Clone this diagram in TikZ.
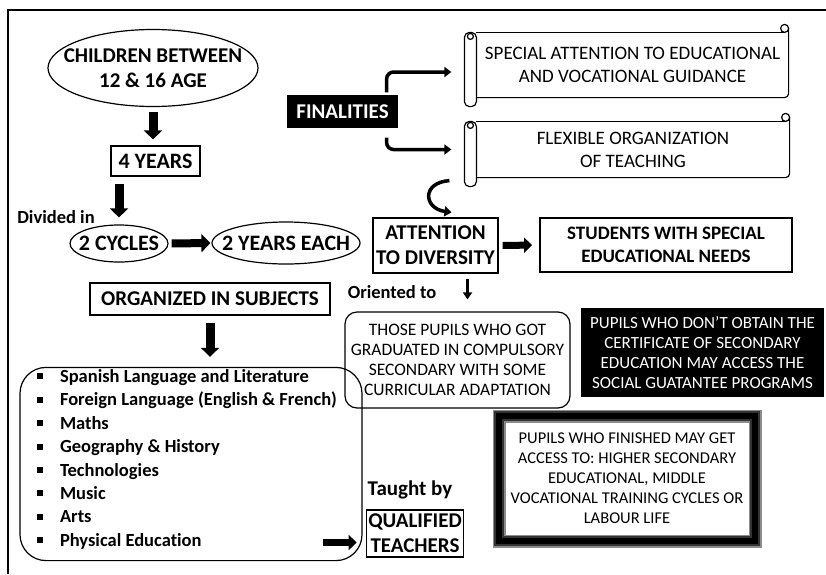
\documentclass[tikz,border=0pt]{standalone}
\usepackage{fontspec}
\setmainfont{Carlito}[Ligatures=NoCommon]
\usetikzlibrary{arrows.meta}
\usetikzlibrary{shapes.geometric}
\usetikzlibrary{calc}
\newcommand{\sqbul}{\rule[3pt]{6pt}{6pt}\hspace{17pt}}
\newcommand{\bigtxt}{\fontsize{21}{25}\selectfont\bfseries}
\newcommand{\midtxt}{\fontsize{19}{23}\selectfont\bfseries}
\newcommand{\scrolldeco}[1]{%
\draw (#1.north west) -- ([xshift=-4pt]#1.north east);
\draw ([xshift=-4pt,yshift=4pt]#1.north east) circle (4pt);
\draw[rounded corners=4pt] ([yshift=4pt]#1.north east) -- (#1.south east) -- (#1.south west);
\draw[rounded corners=5pt] ([xshift=-12pt]#1.north west) rectangle ([yshift=-9pt]#1.south west);
\draw ([xshift=-6pt,yshift=-4pt]#1.north west) circle (3pt);
}

\begin{document}
\begin{tikzpicture}[x=1pt,y=-1pt,line width=1.2pt]
\tikzstyle{every node}=[align=center,inner sep=2pt]
\tikzstyle{ovalbox}=[ellipse,draw,inner xsep=-20pt,inner ysep=0pt,font=\bigtxt]
\tikzstyle{plainbox}=[rectangle,draw,font=\bigtxt]
\tikzstyle{blackbox}=[rectangle,fill=black,text=white]
\tikzstyle{scrollbox}=[rectangle,font=\fontsize{19}{23}\selectfont]
\tikzstyle{roundbox}=[rectangle,draw,rounded corners=12pt]
\tikzstyle{fuzzybox}=[rectangle,font=\fontsize{16.5}{20}\selectfont,
  preaction={draw,line width=13pt,black!45},
  preaction={draw,line width=10pt,black!80},
  draw=black,line width=6pt]
\tikzstyle{blockarrow}=[line width=9pt,-{Triangle[width=18pt,length=9pt]}]
\tikzstyle{bendarrow}=[line width=3.5pt,rounded corners=7pt,-{Triangle[width=10pt,length=7pt]}]
\useasboundingbox (0,0) rectangle (826,574);
\draw[line width=1.3pt] (826,10) -- (8,10) -- (8,574);
\node[ovalbox,minimum width=210pt,minimum height=77pt] (kids) at (153,68) {CHILDREN BETWEEN\\12 \& 16 AGE};
\node[plainbox,minimum width=89pt,minimum height=30pt,font=\fontsize{22}{25}\selectfont\bfseries] (yrs) at (155.5,161) {4 YEARS};
\node[font=\fontsize{18.5}{20}\selectfont\bfseries] (dvd) at (56,217) {Divided in};
\node[ovalbox,minimum width=98pt,minimum height=37pt,font=\fontsize{22}{25}\selectfont\bfseries] (cyc) at (119,243.5) {2 CYCLES};
\node[ovalbox,minimum width=148pt,minimum height=42pt,font=\fontsize{22}{25}\selectfont\bfseries] (each) at (286,243) {2 YEARS EACH};
\node[plainbox,minimum width=240pt,minimum height=32pt] (subj) at (210,299) {ORGANIZED IN SUBJECTS};
\node[roundbox,rounded corners=26pt,minimum width=342pt,minimum height=192pt,align=flush left,text width=308pt,
  font=\fontsize{18.5}{23.4}\selectfont\bfseries] (list) at (191,464) {\sqbul Spanish Language and Literature\\
\sqbul Foreign Language (English \& French)\\
\sqbul Maths\\
\sqbul Geography \& History\\
\sqbul Technologies\\
\sqbul Music\\
\sqbul Arts\\
\sqbul Physical Education\\[-11pt]\mbox{}};
\node[font=\bigtxt] (tby) at (410,490) {Taught by};
\node[plainbox,minimum width=96pt,minimum height=47pt] (teach) at (415,533.5) {QUALIFIED\\TEACHERS};
\node[blackbox,font=\bigtxt,minimum width=111pt,minimum height=33pt] (fin) at (342.5,111.5) {FINALITIES};
\node[scrollbox,minimum width=311pt,minimum height=64pt] (sa) at (632.5,65) {SPECIAL ATTENTION TO EDUCATIONAL\\AND VOCATIONAL GUIDANCE};
\node[scrollbox,minimum width=312pt,minimum height=55pt] (fo) at (633,149.5) {FLEXIBLE ORGANIZATION\\OF TEACHING};
\scrolldeco{sa}
\scrolldeco{fo}
\node[plainbox,minimum width=125pt,minimum height=55pt] (div) at (435.5,245.5) {ATTENTION\\TO DIVERSITY};
\node[plainbox,line width=1.8pt,minimum width=252pt,minimum height=54pt,font=\midtxt] (sen) at (666,245) {STUDENTS WITH SPECIAL\\EDUCATIONAL NEEDS};
\node[font=\fontsize{18.5}{20}\selectfont\bfseries] (ori) at (392,292) {Oriented to};
\node[roundbox,font=\fontsize{17.5}{20}\selectfont,minimum width=225pt,minimum height=96pt] (those) at (457.5,360) {THOSE PUPILS WHO GOT\\GRADUATED IN COMPULSORY\\SECONDARY WITH SOME\\CURRICULAR ADAPTATION};
\node[blackbox,font=\fontsize{17}{20}\selectfont,minimum width=243pt,minimum height=89pt] (cert) at (702.5,352.5) {PUPILS WHO DON'T OBTAIN THE\\CERTIFICATE OF SECONDARY\\EDUCATION MAY ACCESS THE\\SOCIAL GUATANTEE PROGRAMS};
\node[fuzzybox,minimum width=256pt,minimum height=125pt] (pf) at (627,478.5) {PUPILS WHO FINISHED MAY GET\\ACCESS TO: HIGHER SECONDARY\\EDUCATIONAL, MIDDLE\\VOCATIONAL TRAINING CYCLES OR\\LABOUR LIFE};
\draw[blockarrow,shorten <=5pt,shorten >=6pt] (kids.south) -- (kids.south |- yrs.north);
\draw[blockarrow,shorten <=7pt,shorten >=7pt] (cyc.north |- yrs.south) -- (cyc.north);
\draw[blockarrow,line width=8pt,shorten <=3pt,shorten >=1pt] (cyc.east) -- (each.west);
\draw[blockarrow,shorten <=7pt,shorten >=10pt] (subj.south) -- (subj.south |- list.north);
\draw[blockarrow,line width=7pt,-{Triangle[width=15pt,length=8pt]}] ($(teach.west -| list.east)+(-40,9)$) -- ($(teach.west)+(-9,9)$);
\draw[bendarrow,shorten >=25pt] ([xshift=-12pt,yshift=2pt]fin.north east) |- ([yshift=-7pt]sa.west);
\draw[bendarrow,shorten >=25pt] ([xshift=-12pt,yshift=-9pt]fin.south east) |- (fo.west);
\draw[line width=3.5pt,-{Triangle[width=10pt,length=7pt]}] ([xshift=-27pt,yshift=-3pt]fo.south west) .. controls +(-28,2) and +(-28,-4) .. ([xshift=16pt,yshift=5pt]div.north);
\draw[blockarrow,line width=7pt,-{Triangle[width=15pt,length=8pt]},shorten <=4pt,shorten >=7pt] (div.east) -- (sen.west);
\draw[line width=3.5pt,-{Triangle[width=9pt,length=7pt]},shorten <=5pt,shorten >=12pt] ([xshift=32pt]div.south) -- ([xshift=32pt]div.south |- those.north);
\end{tikzpicture}
\end{document}
